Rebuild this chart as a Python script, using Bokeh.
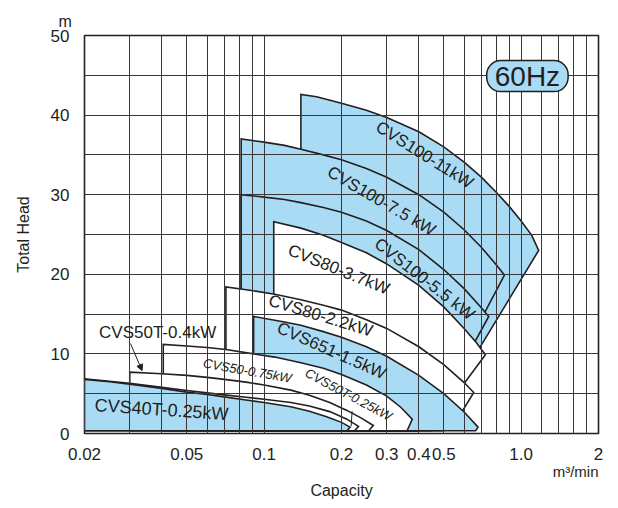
from bokeh.plotting import figure
from bokeh.models import FixedTicker, Label, Arrow, NormalHead, ColumnDataSource, Title
from bokeh.embed import file_html
from bokeh.resources import INLINE

BASE = 0.35          # bottom edge of every operating range (m)
BLUE = "#a9dbf4"
WHITE = "#ffffff"
INK = "#231f20"
FONT = "Liberation Sans"

# ---- operating ranges, back to front -------------------------------------
# q_* / h_*  : top H-Q curve, from the left edge to the tip of the range (m3/min, m)
# tq_* / th_*: edge after the tip (chevron, then hidden return to the base)
names = ["CVS100-11kW", "CVS100-7.5kW", "CVS100-5.5kW", "CVS80-3.7kW", "CVS80-2.2kW",
         "CVS651-1.5kW", "CVS50-0.75kW", "CVS50T-0.4kW", "CVS50T-0.25kW", "CVS40T-0.25kW"]
fills = [BLUE, BLUE, BLUE, WHITE, WHITE, BLUE, WHITE, WHITE, WHITE, BLUE]

q_11 = [0.139, 0.16, 0.2, 0.25, 0.3, 0.4, 0.5, 0.6, 0.7, 0.8, 0.9, 1.0, 1.1, 1.17]
h_11 = [42.6, 42.3, 41.5, 40.6, 39.7, 37.9, 36.0, 34.1, 32.2, 30.3, 28.5, 26.7, 24.9, 23.0]
tq_11 = [0.627, 0.40]
th_11 = [8.56, BASE]

q_75 = [0.0814, 0.1, 0.12, 0.139, 0.17, 0.2, 0.25, 0.3, 0.4, 0.5, 0.6, 0.7, 0.8, 0.861]
h_75 = [37.0, 36.6, 36.2, 35.7, 35.0, 34.4, 33.3, 32.2, 30.0, 27.8, 25.6, 23.4, 21.2, 19.9]
tq_75 = [0.664, 0.40]
th_75 = [13.0, BASE]

q_55 = [0.0814, 0.1, 0.12, 0.139, 0.17, 0.2, 0.25, 0.3, 0.4, 0.5, 0.6, 0.7, 0.748]
h_55 = [30.0, 29.7, 29.4, 29.0, 28.4, 27.8, 26.7, 25.5, 23.1, 20.6, 18.2, 15.8, 14.7]
tq_55 = [0.635, 0.40]
th_55 = [10.5, BASE]

q_37 = [0.109, 0.139, 0.17, 0.2, 0.25, 0.3, 0.4, 0.5, 0.6, 0.67, 0.726]
h_37 = [26.6, 25.8, 24.9, 24.0, 22.7, 21.3, 18.6, 15.9, 13.2, 11.4, 9.9]
tq_37 = [0.57, 0.45]
th_37 = [5.3, BASE]

q_22 = [0.071, 0.088, 0.11, 0.139, 0.17, 0.2, 0.25, 0.3, 0.4, 0.5, 0.6, 0.654]
h_22 = [18.4, 18.0, 17.5, 16.8, 16.1, 15.5, 14.3, 13.2, 10.9, 8.65, 6.4, 5.15]
tq_22 = [0.57, 0.50]
th_22 = [2.0, BASE]

q_15 = [0.091, 0.12, 0.139, 0.17, 0.2, 0.25, 0.3, 0.4, 0.5, 0.6, 0.68]
h_15 = [14.7, 14.0, 13.6, 12.8, 12.1, 10.9, 9.7, 7.3, 5.0, 2.7, 0.8]
tq_15 = [0.665]
th_15 = [BASE]

q_075 = [0.0405, 0.05, 0.06, 0.071, 0.091, 0.11, 0.139, 0.17, 0.2, 0.25, 0.3, 0.34, 0.377]
h_075 = [11.2, 11.0, 10.8, 10.55, 10.0, 9.6, 8.9, 8.2, 7.4, 6.1, 4.7, 3.3, 1.8]
tq_075 = [0.36]
th_075 = [BASE]

q_04 = [0.03, 0.04, 0.05, 0.06, 0.07, 0.085, 0.1, 0.127, 0.15, 0.18, 0.21, 0.24, 0.266]
h_04 = [7.7, 7.5, 7.3, 7.05, 6.8, 6.45, 6.1, 5.45, 4.8, 3.9, 2.9, 1.9, 1.0]
tq_04 = [0.255]
th_04 = [BASE]

q_025t = [0.02, 0.03, 0.04, 0.05, 0.06, 0.07, 0.085, 0.1, 0.127, 0.15, 0.18, 0.21, 0.233]
h_025t = [6.85, 6.3, 5.8, 5.4, 5.1, 4.85, 4.55, 4.3, 3.9, 3.45, 2.75, 1.8, 0.9]
tq_025t = [0.225]
th_025t = [BASE]

q_40t = [0.02, 0.025, 0.03, 0.04, 0.05, 0.06, 0.07, 0.085, 0.1, 0.127, 0.15, 0.175, 0.2, 0.216]
h_40t = [6.8, 6.5, 6.2, 5.65, 5.2, 4.9, 4.6, 4.2, 3.9, 3.35, 2.8, 2.1, 1.4, 0.8]
tq_40t = [0.21]
th_40t = [BASE]

tops = [(q_11, h_11, tq_11, th_11), (q_75, h_75, tq_75, th_75), (q_55, h_55, tq_55, th_55),
        (q_37, h_37, tq_37, th_37), (q_22, h_22, tq_22, th_22), (q_15, h_15, tq_15, th_15),
        (q_075, h_075, tq_075, th_075), (q_04, h_04, tq_04, th_04),
        (q_025t, h_025t, tq_025t, th_025t), (q_40t, h_40t, tq_40t, th_40t)]

# ---- labels ----------------------------------------------------------------
lab_text = ["CVS100-11kW", "CVS100-7.5 kW", "CVS100-5.5 kW", "CVS80-3.7kW", "CVS80-2.2kW",
            "CVS651-1.5kW", "CVS50-0.75kW", "CVS50T-0.25kW", "CVS50T-0.4kW", "CVS40T-0.25kW"]
lab_q = [0.421, 0.286, 0.421, 0.195, 0.166, 0.183, 0.086, 0.213, 0.0385, 0.0399]
lab_h = [35.0, 29.2, 19.4, 20.6, 14.8, 10.4, 7.9, 4.9, 12.7, 3.0]
lab_angle = [-32, -30, -38, -22, -17, -24, -10, -28, 0, -4]
lab_size = ["17px", "17px", "17px", "17px", "17px", "17px", "13px", "13px", "17px", "18px"]
lab_style = ["normal"] * 6 + ["italic", "italic", "normal", "normal"]

x_ticks = [0.02, 0.05, 0.1, 0.2, 0.3, 0.4, 0.5, 1.0, 2.0]
x_tick_labels = ["0.02", "0.05", "0.1", "0.2", "0.3", "0.4", "0.5", "1.0", "2"]
x_grid = [0.02, 0.03, 0.04, 0.05, 0.06, 0.07, 0.08, 0.09,
          0.1, 0.2, 0.3, 0.4, 0.5, 0.6, 0.7, 0.8, 0.9,
          1.0, 1.2, 1.4, 1.6, 1.8, 2.0]
y_ticks = [0, 10, 20, 30, 40, 50]
y_grid = [0, 5, 10, 15, 20, 25, 30, 35, 40, 45, 50]

p = figure(width=610, height=500, x_axis_type="log", x_range=(0.02, 2), y_range=(0, 50),
           output_backend="svg", toolbar_location=None,
           min_border_left=84, min_border_right=12, min_border_top=35, min_border_bottom=66)
p.background_fill_color = "white"
p.border_fill_color = "white"
p.outline_line_color = INK
p.outline_line_width = 1.6

xs, ys = [], []
for q, h, tq, th in tops:
    xs.append([q[0]] + list(q) + list(tq))
    ys.append([BASE] + list(h) + list(th))
src = ColumnDataSource(dict(xs=xs, ys=ys, fill=fills, name=names))
p.patches("xs", "ys", source=src, fill_color="fill", line_color=INK, line_width=1.6,
          line_join="miter")

# leader line of the CVS50T-0.25kW label
p.segment(x0=[0.220], y0=[2.8], x1=[0.218], y1=[0.9], line_color=INK, line_width=1)

# grid drawn over the ranges
p.xgrid.ticker = FixedTicker(ticks=x_grid)
p.ygrid.ticker = FixedTicker(ticks=y_grid)
for g in (p.xgrid, p.ygrid):
    g.grid_line_color = "#3a3738"
    g.grid_line_width = 1
    g.level = "guide"

for ax in (p.xaxis, p.yaxis):
    ax.axis_line_color = None
    ax.major_tick_line_color = None
    ax.minor_tick_line_color = None
    ax.major_label_text_font = FONT
    ax.major_label_text_font_size = "17px"
    ax.major_label_text_color = INK
    ax.axis_label_text_font = FONT
    ax.axis_label_text_font_style = "normal"
    ax.axis_label_text_color = INK

p.xaxis.ticker = FixedTicker(ticks=x_ticks)
p.xaxis.major_label_overrides = {t: s for t, s in zip(x_ticks, x_tick_labels)}
p.xaxis.major_label_standoff = 8
p.yaxis.ticker = FixedTicker(ticks=y_ticks)
p.yaxis.major_label_standoff = 9
p.yaxis.axis_label = "Total Head"
p.yaxis.axis_label_text_font_size = "16px"
p.yaxis.axis_label_standoff = 16

for t, q, h, a, s, st in zip(lab_text, lab_q, lab_h, lab_angle, lab_size, lab_style):
    p.add_layout(Label(x=q, y=h, text=t, angle=a, angle_units="deg", text_align="center",
                       text_baseline="middle", text_font=FONT, text_font_size=s,
                       text_font_style=st, text_color=INK))

p.add_layout(Arrow(end=NormalHead(size=6, fill_color=INK, line_color=INK, line_width=1),
                   x_start=0.0302, y_start=11.3, x_end=0.0335, y_end=7.9,
                   line_color=INK, line_width=1))

p.add_layout(Label(x=1.058, y=44.9, text="60Hz", text_align="center", text_baseline="middle",
                   text_font=FONT, text_font_size="28px", text_color=INK,
                   background_fill_color=BLUE, border_line_color=INK, border_line_width=1.5,
                   border_radius=14, padding=(8, 0)))

# unit and axis captions outside the frame
p.add_layout(Title(text="m", align="left", offset=-26, standoff=11, text_font=FONT,
                   text_font_size="16px", text_font_style="normal", text_color=INK), "above")
p.add_layout(Title(text="m³/min", align="right", standoff=-3, text_font=FONT,
                   text_font_size="15px", text_font_style="normal", text_color=INK), "below")
p.add_layout(Title(text="Capacity", align="center", standoff=3, text_font=FONT,
                   text_font_size="16px", text_font_style="normal", text_color=INK), "below")

open("out.html", "w").write(file_html(p, INLINE))
